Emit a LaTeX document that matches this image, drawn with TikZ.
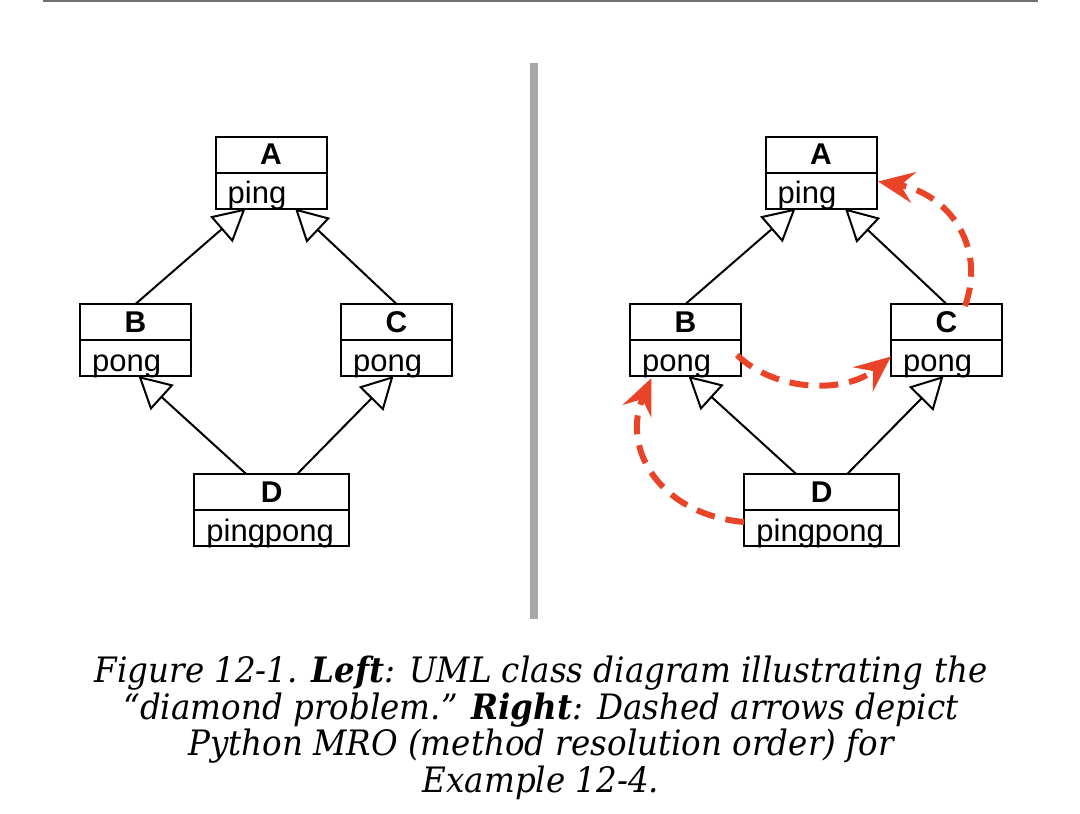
\documentclass[tikz,border=0pt]{standalone}
\usepackage{fontspec}
\setsansfont{Liberation Sans}
\newfontfamily\capfont[FakeStretch=0.93]{DejaVu Serif}
\usetikzlibrary{arrows.meta}
\definecolor{mrored}{RGB}{233,68,40}
\definecolor{rulegray}{RGB}{112,112,112}
\definecolor{bargray}{RGB}{168,168,168}
\tikzset{
  namebox/.style={draw, line width=2pt, minimum height=36pt, inner sep=0pt, outer sep=0pt,
    font=\sffamily\bfseries\fontsize{30}{36}\selectfont},
  attrbox/.style={draw, line width=2pt, minimum height=36pt, inner sep=0pt, outer sep=0pt},
  attrtext/.style={anchor=base west, inner sep=0pt, font=\sffamily\fontsize{31}{36}\selectfont},
  inh/.style={draw, line width=2pt, -{Triangle[length=32pt, width=34pt, fill=white]}},
  mro/.style={draw=mrored, line width=6pt, dash pattern=on 19pt off 11pt,
    -{Stealth[length=36pt, width=31pt, inset=13pt]}},
  capline/.style={anchor=base, inner sep=0pt, font=\capfont\itshape\fontsize{35}{40}\selectfont}
}
\newcommand\umlclass[6]{%
  \node[namebox, minimum width=#4] (#1n) at (#2,#3+18) {#5};
  \node[attrbox, minimum width=#4, anchor=north] (#1a) at (#1n.south) {};
  \node[attrtext] (#1t) at ([xshift=12pt, yshift=5pt]#1a.south west) {#6};
}
\begin{document}
\begin{tikzpicture}[x=1pt, y=-1pt]
\useasboundingbox (0,0) rectangle (1080,814);
% rules
\draw[rulegray, line width=1.5pt] (43,0.75) coordinate (rl) -- (1038,0.75) coordinate (rr);
\draw[bargray, line width=7.5pt] (534,63.3) coordinate (bt) -- (534,619.3) coordinate (bb);
% left diagram
\umlclass{A}{271}{136.5}{111}{A}{ping}
\umlclass{B}{135.5}{304}{111}{B}{pong}
\umlclass{C}{396.5}{304}{111}{C}{pong}
\umlclass{D}{271.7}{474}{155}{D}{pingpong}
\draw[inh] (Bn.north) -- ([xshift=-25.5pt]Aa.south);
\draw[inh] (Cn.north) -- ([xshift=24pt]Aa.south);
\draw[inh] ([xshift=-25.5pt]Dn.north) -- ([xshift=3pt]Ba.south);
\draw[inh] ([xshift=25.5pt]Dn.north) -- ([xshift=-3pt]Ca.south);
% right diagram
\umlclass{RA}{821}{136.5}{111}{A}{ping}
\umlclass{RB}{685.5}{304}{111}{B}{pong}
\umlclass{RC}{946.5}{304}{111}{C}{pong}
\umlclass{RD}{821.7}{474}{155}{D}{pingpong}
\draw[inh] (RBn.north) -- ([xshift=-25.5pt]RAa.south);
\draw[inh] (RCn.north) -- ([xshift=24pt]RAa.south);
\draw[inh] ([xshift=-25.5pt]RDn.north) -- ([xshift=3pt]RBa.south);
\draw[inh] ([xshift=25.5pt]RDn.north) -- ([xshift=-3pt]RCa.south);
% MRO arrows
\draw[mro] ([yshift=6pt]RDa.west) .. controls (662,515) and (620,450) .. ([xshift=-34pt, yshift=-2pt]RBa.south);
\draw[mro] ([xshift=-4pt, yshift=3pt]RBa.east) .. controls (775,392) and (845,394) .. ([yshift=1.5pt]RCa.west);
\draw[mro] ([xshift=18.5pt, yshift=-2pt]RCn.north) .. controls (987,245) and (947,193) .. ([xshift=1.5pt, yshift=9pt]RAa.east);
% caption
\node[capline] (cap1) at (541,682.3) {Figure 12-1. \textbf{Left}: UML class diagram illustrating the};
\node[capline] (cap2) at (541,719) {“diamond problem.” \textbf{Right}: Dashed arrows depict};
\node[capline] (cap3) at (541,755.5) {Python MRO (method resolution order) for};
\node[capline] (cap4) at (541,792) {Example 12-4.};
\end{tikzpicture}
\end{document}
